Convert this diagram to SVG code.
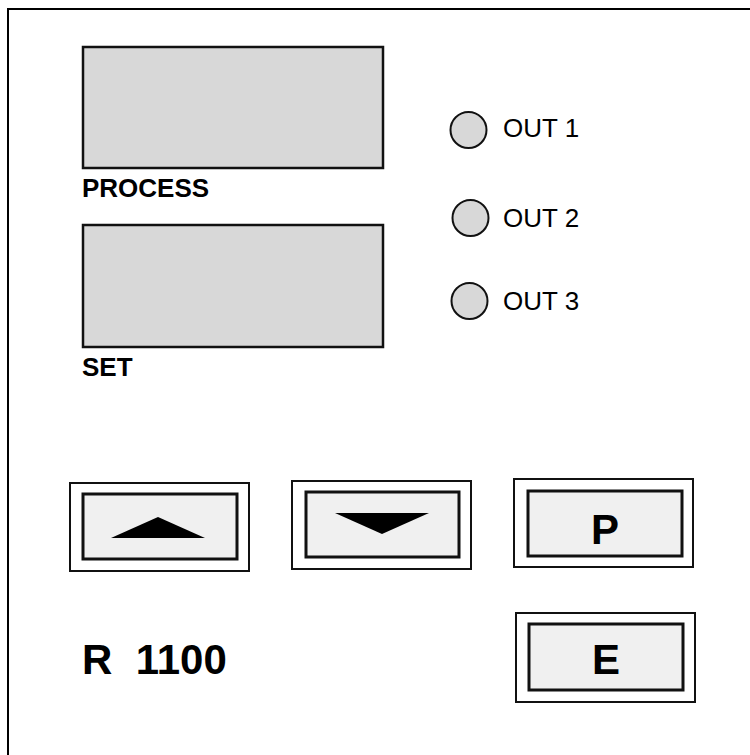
<svg xmlns="http://www.w3.org/2000/svg" width="750" height="755" viewBox="0 0 750 755">
<style>
.frame{fill:#fff;stroke:#000;stroke-width:2}
.disp{fill:#d8d8d8;stroke:#111;stroke-width:2.5}
.bo{fill:#fff;stroke:#111;stroke-width:2}
.bi{fill:#f0f0f0;stroke:#111;stroke-width:3}
.led{fill:#d8d8d8;stroke:#111;stroke-width:2}
.lbl{font-family:"Liberation Sans",Arial,sans-serif;font-weight:bold;font-size:26px;fill:#000}
.out{font-family:"Liberation Sans",Arial,sans-serif;font-size:26px;fill:#000}
.key{font-family:"Liberation Sans",Arial,sans-serif;font-weight:bold;font-size:42px;fill:#000;text-anchor:middle}
.big{font-family:"Liberation Sans",Arial,sans-serif;font-weight:bold;font-size:42px;fill:#000;white-space:pre}
</style>
<rect class="frame" x="8" y="9" width="780" height="780"/>
<g id="process-display">
<rect class="disp" x="83" y="47" width="300" height="121"/>
<text class="lbl" x="82" y="197">PROCESS</text>
</g>
<g id="set-display">
<rect class="disp" x="83" y="225" width="300" height="122"/>
<text class="lbl" x="82" y="376">SET</text>
</g>
<g id="out1">
<circle class="led" cx="468.5" cy="130" r="18"/>
<text class="out" x="503" y="137">OUT 1</text>
</g>
<g id="out2">
<circle class="led" cx="470.5" cy="218" r="18"/>
<text class="out" x="503" y="227">OUT 2</text>
</g>
<g id="out3">
<circle class="led" cx="469.5" cy="301" r="18"/>
<text class="out" x="503" y="310">OUT 3</text>
</g>
<g id="btn-up">
<rect class="bo" x="70" y="483" width="179" height="88"/>
<rect class="bi" x="83" y="494" width="154" height="65"/>
<polygon points="111,538 158,517 205,538" fill="#000"/>
</g>
<g id="btn-down">
<rect class="bo" x="292" y="481" width="179" height="88"/>
<rect class="bi" x="306" y="492" width="153" height="65"/>
<polygon points="335,513 429,513 382,534" fill="#000"/>
</g>
<g id="btn-p">
<rect class="bo" x="514" y="479" width="179" height="88"/>
<rect class="bi" x="528" y="491" width="154" height="65"/>
<text class="key" x="605" y="544">P</text>
</g>
<g id="btn-e">
<rect class="bo" x="516" y="613" width="179" height="89"/>
<rect class="bi" x="529" y="624" width="154" height="66"/>
<text class="key" x="606" y="674">E</text>
</g>
<g id="model">
<text class="big" x="82" y="674">R  1100</text>
</g>
<g id="connectors"/>
</svg>
